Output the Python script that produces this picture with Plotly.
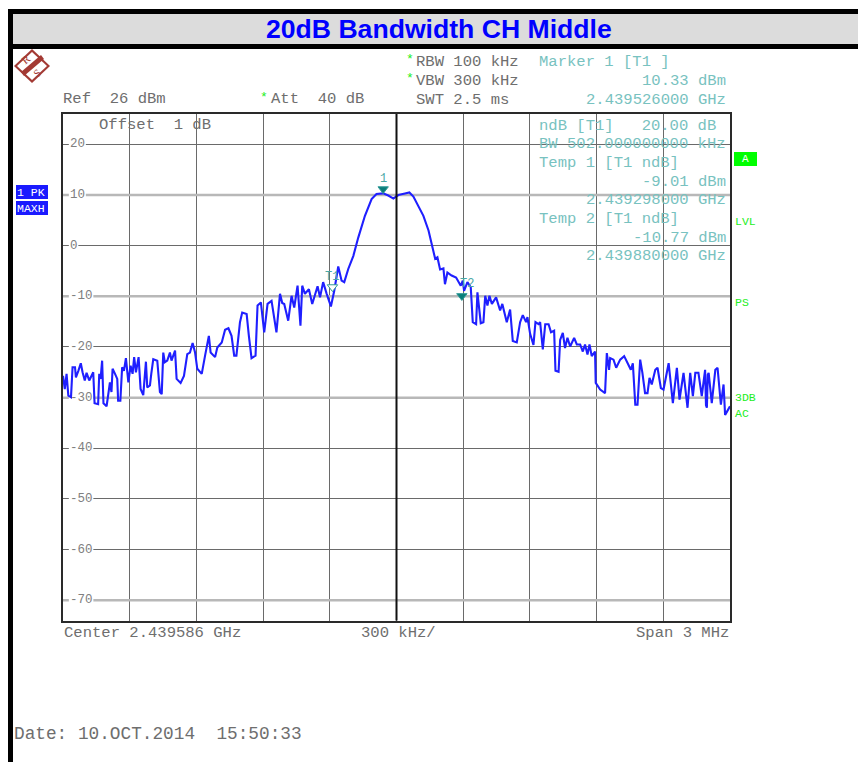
import plotly.graph_objects as go

W, H = 858, 762
PLOT_L, PLOT_R, PLOT_T, PLOT_B = 63, 730, 114, 620.5

freq_offset_khz = [
 -1500,-1492,-1484,-1476,-1464,-1457,-1446,-1442,-1431,-1420,-1412,-1402,-1394,-1382,-1364,-1358,-1342,-1337,-1331,-1324,
 -1318,-1304,-1295,-1289,-1282,-1277,-1266,-1256,-1252,-1242,-1234,-1226,-1217,-1206,-1196,-1187,-1180,-1172,-1160,-1151,
 -1139,-1127,-1121,-1109,-1103,-1094,-1076,-1064,-1056,-1049,-1042,-1031,-1019,-1012,-996,-989,-971,-956,-941,-929,
 -917,-906,-896,-876,-861,-844,-836,-816,-806,-786,-771,-756,-742,-730,-720,-704,-694,-674,-664,-652,
 -634,-625,-610,-595,-580,-562,-540,-524,-514,-505,-487,-472,-460,-445,-432,-424,-412,-394,-379,-355,
 -344,-330,-314,-295,-280,-262,-247,-235,-217,-194,-172,-142,-112,-90,-60,-37,-14,8,38,58,
 76,98,121,144,163,174,184,196,211,218,229,248,268,289,298,304,319,334,343,358,
 364,379,391,399,409,418,429,448,466,476,496,511,523,541,556,568,583,589,601,616,
 625,639,646,658,669,684,695,709,715,729,736,748,758,769,781,799,811,826,838,848,
 859,868,878,893,896,916,938,946,956,961,976,988,1006,1024,1043,1054,1063,1074,1084,1096,
 1106,1118,1129,1138,1148,1164,1174,1189,1201,1224,1243,1261,1273,1291,1309,1321,1333,1344,1358,1373,
 1388,1392,1396,1400,1404,1418,1434,1444,1459,1471,1478,1500]

level_dbm = [
 -25.7,-28.3,-25.3,-29.6,-29.9,-24.0,-24.0,-26.0,-24.7,-23.2,-25.0,-26.6,-25.1,-26.6,-25.0,-31.1,-31.3,-25.3,-26.3,-22.7,
 -31.1,-31.7,-28.9,-27.0,-28.9,-24.3,-25.3,-26.3,-30.6,-30.6,-24.0,-24.7,-22.2,-27.0,-23.7,-25.3,-22.0,-25.0,-22.0,-28.3,
 -29.5,-22.9,-28.0,-27.6,-25.3,-22.4,-22.7,-28.9,-29.3,-21.1,-23.0,-22.7,-21.1,-22.7,-20.7,-26.3,-27.1,-25.7,-21.4,-21.1,
 -19.2,-21.1,-24.3,-25.3,-21.7,-17.8,-21.1,-22.0,-20.1,-19.1,-16.6,-16.3,-17.8,-21.7,-21.7,-15.1,-13.2,-13.5,-17.8,-22.2,
 -21.7,-11.8,-11.2,-17.1,-11.5,-10.9,-17.1,-9.5,-11.3,-11.5,-14.8,-9.9,-12.2,-7.9,-15.8,-7.9,-9.5,-8.6,-11.5,-8.0,
 -10.2,-7.2,-9.5,-12.0,-8.9,-4.1,-6.9,-7.2,-4.6,-2.0,1.6,5.9,9.2,10.2,10.33,9.9,9.3,10.0,10.3,10.5,
 9.7,7.9,5.9,3.0,-0.3,-2.6,-2.3,-4.7,-4.5,-7.6,-5.3,-5.9,-6.3,-7.9,-6.9,-8.9,-7.2,-8.2,-15.1,-15.5,
 -9.2,-15.3,-15.1,-9.9,-11.8,-9.9,-11.5,-10.2,-12.8,-11.5,-15.1,-12.6,-18.8,-19.1,-15.1,-13.7,-15.1,-14.1,-17.4,-19.6,
 -15.1,-15.5,-15.1,-20.5,-15.5,-15.5,-17.1,-16.8,-24.7,-24.9,-18.6,-17.2,-20.2,-18.2,-19.9,-18.2,-19.5,-19.5,-20.9,-19.5,
 -21.5,-19.5,-21.8,-20.9,-27.1,-28.4,-29.1,-21.2,-24.5,-22.2,-22.5,-24.1,-22.5,-21.8,-23.5,-24.5,-23.2,-31.4,-31.4,-22.5,
 -25.1,-29.1,-29.1,-26.1,-27.4,-24.5,-24.1,-28.1,-28.4,-23.2,-31.1,-24.1,-30.4,-25.1,-32.0,-25.1,-29.7,-25.1,-25.1,-29.7,
 -24.5,-31.5,-32.0,-25.5,-25.1,-31.1,-24.5,-24.1,-31.4,-27.4,-33.4,-31.7]

y_tick_values = [20, 10, 0, -10, -20, -30, -40, -50, -60, -70]
y_tick_labels = ["20", "10", "0", "-10", "-20", "-30", "-40", "-50", "-60", "-70"]
heavy_grid_levels = [10, -10, -30, -70]

marker_freq_khz = [-60, -288, 294]
marker_level_dbm = [10.33, -9.01, -10.77]
marker_names = ["1", "T1", "T2"]

BLUE = "#1f1fff"
TEAL = "#78c2c0"
GREY = "#6e6e6e"
GREEN = "#22ee22"
MONO = "Liberation Mono"
NB = "\u00a0"


def px(x):
    return x / W


def py(y):
    return 1 - y / H


def nb(s):
    return s.replace(" ", NB)


annotations = []


def label(text, x, y, color=GREY, size=15.55, anchor="left", family=MONO, **kw):
    annotations.append(dict(text=nb(text), x=px(x), y=py(y), xref="paper", yref="paper",
                            xanchor=anchor, yanchor="middle", showarrow=False,
                            font=dict(family=family, size=size, color=color),
                            borderpad=0, borderwidth=0, **kw))


shapes = []


def rect(x0, y0, x1, y1, color):
    shapes.append(dict(type="rect", xref="paper", yref="paper", x0=px(x0), x1=px(x1),
                       y0=py(y0), y1=py(y1), fillcolor=color, line_width=0, layer="above"))


def poly(points, color):
    path = "M" + " L".join(f"{px(a):.5f},{py(b):.5f}" for a, b in points) + " Z"
    shapes.append(dict(type="path", xref="paper", yref="paper", path=path,
                       fillcolor=color, line_width=0, layer="above"))


# page frame and title band
rect(8, 9, W, 14, "#000000")
rect(13, 14, W, 44, "#dcdcdc")
rect(8, 44, W, 49, "#000000")
rect(8, 9, 13, H, "#000000")

# logo
LOGO = "#a33a34"
poly([(32, 49), (50, 66), (32, 83), (14, 66)], LOGO)
poly([(32, 52), (47, 66), (32, 80), (17, 66)], "#ffffff")
poly([(21, 72), (41, 55), (44, 59), (24, 76)], LOGO)

# status boxes
rect(16, 185, 48, 199, "#1a1aff")
rect(16, 201, 48, 215, "#1a1aff")
rect(734, 152, 757, 166, "#00ff00")

# grid details between the grid and the trace
for lvl in heavy_grid_levels:
    shapes.append(dict(type="line", xref="x", yref="y", x0=-1500, x1=1500, y0=lvl, y1=lvl,
                       line=dict(color="#b8b8b8", width=2.5), layer="between"))
for lvl, text in zip(y_tick_values, y_tick_labels):
    width_chars = len(text)
    shapes.append(dict(type="rect", xref="x", yref="y",
                       x0=(69 - 396.5) * 4.5, x1=(71 + width_chars * 7.5 - 396.5) * 4.5,
                       y0=lvl - 1.1, y1=lvl + 1.1, fillcolor="#ffffff", line_width=0, layer="between"))
    label(text, 70, 144.4 + (20 - lvl) * 5.065, size=12.5, color="#808080")
shapes.append(dict(type="line", xref="x", yref="paper", x0=0, x1=0, y0=py(PLOT_B), y1=py(PLOT_T),
                   line=dict(color="#111111", width=2), layer="above"))

# header readouts
label("Ref  26 dBm", 63, 99)
label("*", 260, 97, color=GREEN, size=13)
label("Att  40 dB", 271, 99)
label("*", 406, 60, color=GREEN, size=13)
label("RBW 100 kHz", 416, 62)
label("*", 406, 79, color=GREEN, size=13)
label("VBW 300 kHz", 416, 81)
label("SWT 2.5 ms", 416, 100)
label("Marker 1 [T1 ]", 539, 62, color=TEAL)
label("10.33 dBm", 726, 81, color=TEAL, anchor="right")
label("2.439526000 GHz", 726, 100, color=TEAL, anchor="right")

# readouts inside the plot
label("Offset  1 dB", 99, 125)
label("ndB [T1]    20.00 dB", 539, 126, color=TEAL)
annotations[-1]["text"] = nb("ndB [T1]   20.00 dB")
label("BW 502.000000000 kHz", 539, 144, color=TEAL)
label("Temp 1 [T1 ndB]", 539, 163, color=TEAL)
label("-9.01 dBm", 726, 182, color=TEAL, anchor="right")
label("2.439298000 GHz", 726, 200, color=TEAL, anchor="right")
label("Temp 2 [T1 ndB]", 539, 219, color=TEAL)
label("-10.77 dBm", 726, 238, color=TEAL, anchor="right")
label("2.439880000 GHz", 726, 256, color=TEAL, anchor="right")

# footer
label("Center 2.439586 GHz", 64, 633)
label("300 kHz/", 361, 633)
label("Span 3 MHz", 729, 633, anchor="right")
label("Date: 10.OCT.2014  15:50:33", 14, 734, size=17.75)

# side labels
label("1 PK", 17, 192, color="#ffffff", size=11.5)
label("MAXH", 17, 208, color="#ffffff", size=11.5)
label("A", 745.5, 159, color="#ffffff", size=11, anchor="center")
label("LVL", 735, 222, color=GREEN, size=11.5)
label("PS", 735, 302, color=GREEN, size=11.5)
label("3DB", 735, 397, color=GREEN, size=11.5)
label("AC", 735, 413, color=GREEN, size=11.5)

# logo letters
label("R", 26, 59, color=LOGO, size=11, anchor="center", family="Liberation Serif", textangle=-40)
label("S", 37, 73, color=LOGO, size=11, anchor="center", family="Liberation Serif", textangle=-40)

# title
label("20dB Bandwidth CH Middle", 438.5, 29, color="#0000ff", size=26.6, anchor="center",
      family="Liberation Sans")
annotations[-1]["text"] = "<b>" + annotations[-1]["text"] + "</b>"

# marker names above the triangles
marker_name_offsets = [(0, -14), (0, -14), (5, -16)]
for f, v, name, (dx, dy) in zip(marker_freq_khz, marker_level_dbm, marker_names, marker_name_offsets):
    annotations.append(dict(text=name, x=f, y=v, xref="x", yref="y", showarrow=False,
                            xshift=dx, yshift=-dy, font=dict(family=MONO, size=12, color="#4aa8a6"),
                            xanchor="center", yanchor="middle"))

fig = go.Figure()
fig.add_trace(go.Scatter(x=freq_offset_khz, y=level_dbm, mode="lines", hoverinfo="skip",
                         line=dict(color=BLUE, width=2.1), showlegend=False))
TIP_OFFSET_DB = 0.85  # triangle tip, not its centre, sits on the marker level
fig.add_trace(go.Scatter(x=marker_freq_khz, y=[v + TIP_OFFSET_DB for v in marker_level_dbm],
                         mode="markers", hoverinfo="skip", showlegend=False,
                         marker=dict(symbol="triangle-down", size=9,
                                     color=["#0a7d7a", "#ffffff", "#0a7d7a"],
                                     line=dict(color="#2f9a97", width=1))))

fig.update_layout(
    width=W, height=H, autosize=False, paper_bgcolor="#ffffff", plot_bgcolor="#ffffff",
    margin=dict(l=0, r=0, t=0, b=0), showlegend=False,
    xaxis=dict(domain=[px(PLOT_L), px(PLOT_R)], range=[-1500, 1500], tick0=-1500, dtick=300,
               showgrid=True, gridcolor="#6a6a6a", gridwidth=1, zeroline=False,
               showticklabels=False, ticks="", showline=True, linecolor="#2a2a2a", linewidth=2, mirror=True),
    yaxis=dict(domain=[py(PLOT_B), py(PLOT_T)], range=[-74, 26], tick0=-70, dtick=10,
               showgrid=True, gridcolor="#6a6a6a", gridwidth=1, zeroline=False,
               showticklabels=False, ticks="", showline=True, linecolor="#2a2a2a", linewidth=2, mirror=True),
    shapes=shapes, annotations=annotations,
)

fig.write_html("out.html", config={"displayModeBar": False},
               post_script="document.body.style.margin='0';document.body.style.overflow='hidden';")
